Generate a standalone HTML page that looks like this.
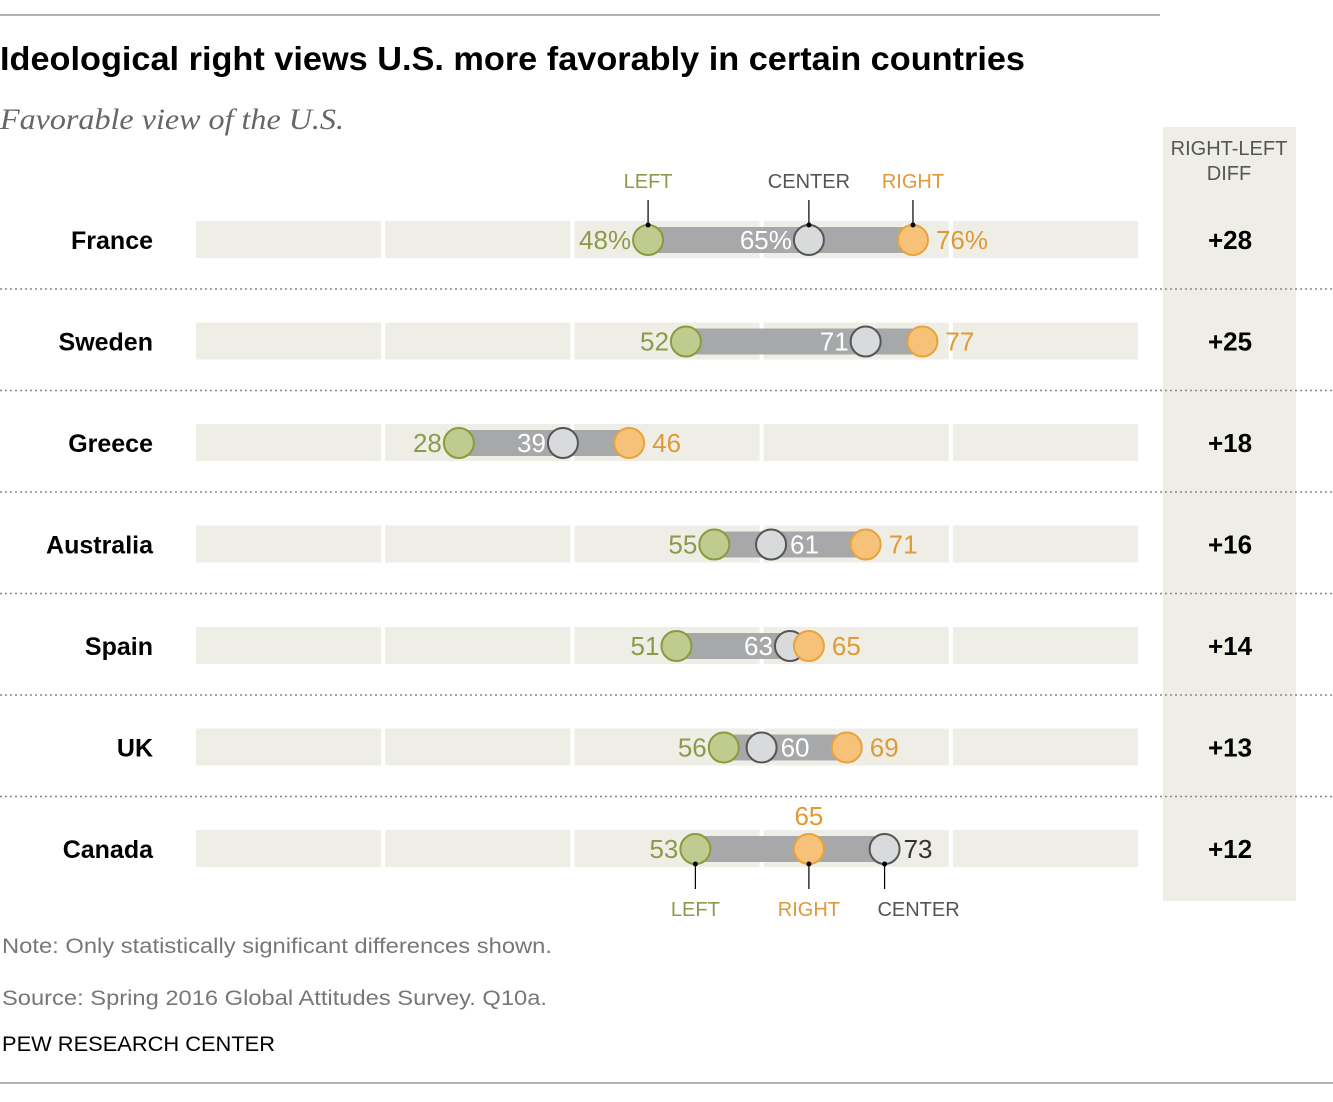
<!DOCTYPE html>
<html><head><meta charset="utf-8"><style>
body{margin:0;background:#fff;width:1333px;height:1097px;overflow:hidden;font-family:"Liberation Sans",sans-serif}
svg text{font-family:"Liberation Sans",sans-serif}
</style></head><body>
<svg width="1333" height="1097">
<line x1="0" y1="15" x2="1160" y2="15" stroke="#999" stroke-width="1.5"/>
<text x="0" y="70" font-size="33" font-weight="bold" fill="#000" textLength="1025" lengthAdjust="spacingAndGlyphs">Ideological right views U.S. more favorably in certain countries</text>
<text x="0" y="129" font-size="30" font-style="italic" fill="#666" textLength="344" lengthAdjust="spacingAndGlyphs" style="font-family:'Liberation Serif',serif">Favorable view of the U.S.</text>
<rect x="1163" y="127" width="133" height="774" fill="#efeee6"/>
<text x="1229" y="155" font-size="20" fill="#555" text-anchor="middle">RIGHT-LEFT</text>
<text x="1229" y="180" font-size="20" fill="#555" text-anchor="middle">DIFF</text>
<g id="rows"></g>
<text x="2" y="953" font-size="21" fill="#777" textLength="550" lengthAdjust="spacingAndGlyphs">Note: Only statistically significant differences shown.</text>
<text x="2" y="1005" font-size="21" fill="#777" textLength="545" lengthAdjust="spacingAndGlyphs">Source: Spring 2016 Global Attitudes Survey. Q10a.</text>
<text x="2" y="1051" font-size="21" fill="#000" textLength="273" lengthAdjust="spacingAndGlyphs">PEW RESEARCH CENTER</text>
<line x1="0" y1="1083" x2="1333" y2="1083" stroke="#999" stroke-width="1.5"/>
</svg>
<script>
const countries=["France","Sweden","Greece","Australia","Spain","UK","Canada"];
const leftVals=[48,52,28,55,51,56,53];
const centerVals=[65,71,39,61,63,60,73];
const rightVals=[76,77,46,71,65,69,65];
const diffs=["+28","+25","+18","+16","+14","+13","+12"];
const NS="http://www.w3.org/2000/svg";
const g=document.getElementById('rows');
const x=v=>194+v*9.46;
const rowY=i=>240+i*101.5;
function el(t,a,p){const e=document.createElementNS(NS,t);for(const k in a)e.setAttribute(k,a[k]);(p||g).appendChild(e);return e;}
const G="#8d9a4a",O="#e09a35";
countries.forEach((c,i)=>{
 const y=rowY(i);
 const row=el('g',{});
 
 
 [[0,20],[20,40],[40,60],[60,80],[80,100]].forEach(s=>{
  const r=el('rect',{x:x(s[0])+2,y:y-19,width:x(s[1])-x(s[0])-4,height:37,fill:'#efeee6'},row);
  
 });
 if(i<countries.length-1){const l=el('line',{x1:0,x2:1333,y1:y+49,y2:y+49,stroke:'#888','stroke-dasharray':'2,3','stroke-width':1.5},row);
  }
 const lab=el('text',{x:153,y:y+9,'font-size':25,'font-weight':'bold','text-anchor':'end'},row);lab.textContent=c;
 
 const lo=Math.min(leftVals[i],centerVals[i],rightVals[i]),hi=Math.max(leftVals[i],centerVals[i],rightVals[i]);
 const b=el('rect',{x:x(lo),y:y-13,width:x(hi)-x(lo),height:26,fill:'#a7a8aa'},row);
 
 const pct=i==0?'%':'';
 const lt=el('text',{x:x(leftVals[i])-17,y:y+9,'font-size':26,fill:G,'text-anchor':'end'},row);lt.textContent=leftVals[i]+pct;
 
 const cRight=(c=="Australia"||c=="UK"||c=="Canada");
 const ct=el('text',{x:cRight?x(centerVals[i])+19:x(centerVals[i])-17,y:y+9,'font-size':26,fill:c=="Canada"?'#333':'#fff','text-anchor':cRight?'start':'end'},row);ct.textContent=centerVals[i]+pct;
 
 const rAbove=c=="Canada";
 const rt=el('text',{x:rAbove?x(rightVals[i]):x(rightVals[i])+23,y:rAbove?y-24:y+9,'font-size':26,fill:O,'text-anchor':rAbove?'middle':'start'},row);rt.textContent=rightVals[i]+pct;
 
 const dots=[[leftVals[i],'#bfcb8f','#8a9a3c','left-dot'],[centerVals[i],'#d9dadc','#555','center-dot'],[rightVals[i],'#f6c27a','#e8a33c','right-dot']];
 dots.forEach(d=>{const ci=el('circle',{cx:x(d[0]),cy:y,r:15,fill:d[1],stroke:d[2],'stroke-width':2},row);
  });
 const dt=el('text',{x:1230,y:y+9,'font-size':26,'font-weight':'bold','text-anchor':'middle'},row);dt.textContent=diffs[i];
 
 const ann=[[leftVals[i],'LEFT',G],[centerVals[i],'CENTER','#555'],[rightVals[i],'RIGHT',O]];
 if(i==0||i==countries.length-1){
  ann.forEach(a=>{
   const ax=x(a[0]);const top=i==0;
   const ln=el('line',{x1:ax,x2:ax,y1:top?y-15:y+15,y2:top?y-40:y+40,stroke:'#000','stroke-width':1.2},row);
   
   const dd=el('circle',{cx:ax,cy:top?y-15:y+15,r:2.5,fill:'#000'},row);
   
   let tx=ax;if(!top&&a[1]=='CENTER')tx=ax+34;
   const at=el('text',{x:tx,y:top?y-52:y+67,'font-size':20,fill:a[2],'text-anchor':'middle'},row);at.textContent=a[1];
   
  });
 }
});
</script>
</body></html>
